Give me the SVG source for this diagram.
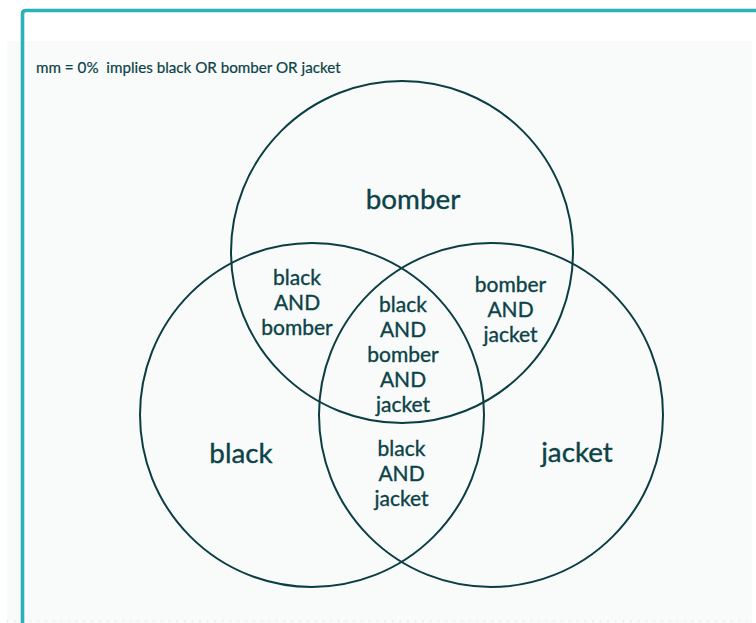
<svg xmlns="http://www.w3.org/2000/svg" width="756" height="623" viewBox="0 0 756 623">
  <style>
    .lbl { font-family: Lato, "Liberation Sans", sans-serif; fill: #0b4347; stroke: #0b4347; stroke-width: 0.35; text-anchor: middle; }
    .big { font-size: 27.8px; }
    .small { font-size: 21px; }
    .note { font-family: Lato, "Liberation Sans", sans-serif; fill: #0b4347; stroke: #0b4347; stroke-width: 0.2; font-size: 15.2px; white-space: pre; }
    .circ { fill: none; stroke: #0b3e42; stroke-width: 2; }
  </style>
  <rect x="0" y="0" width="756" height="623" fill="#ffffff"/>
  <rect x="7" y="41" width="745" height="582" fill="#f9fafa"/>
  <line x1="7" y1="621" x2="752" y2="621" stroke="#d5dada" stroke-width="1" stroke-dasharray="1 6.7"/>
  <path d="M22.5,623 L22.5,14 Q22.5,10.5 26,10.5 L756,10.5" fill="none" stroke="#2bb1b9" stroke-width="3.6"/>
  <text class="note" x="36" y="73" xml:space="preserve">mm = 0%  implies black OR bomber OR jacket</text>

  <g id="circles">
    <g id="set-bomber"><circle class="circ" cx="402" cy="252" r="171"/></g>
    <g id="set-black"><circle class="circ" cx="312" cy="415" r="172"/></g>
    <g id="set-jacket"><circle class="circ" cx="491" cy="415" r="172"/></g>
  </g>

  <g id="label-bomber"><text class="lbl big" x="413" y="209">bomber</text></g>
  <g id="label-black"><text class="lbl big" x="241" y="463">black</text></g>
  <g id="label-jacket"><text class="lbl big" x="577" y="462">jacket</text></g>

  <g id="label-black-bomber">
    <text class="lbl small" x="297" y="285">black</text>
    <text class="lbl small" x="297" y="310">AND</text>
    <text class="lbl small" x="297" y="335">bomber</text>
  </g>
  <g id="label-bomber-jacket">
    <text class="lbl small" x="510.5" y="292">bomber</text>
    <text class="lbl small" x="510.5" y="317">AND</text>
    <text class="lbl small" x="510.5" y="342">jacket</text>
  </g>
  <g id="label-all">
    <text class="lbl small" x="403" y="311.5">black</text>
    <text class="lbl small" x="403" y="336.5">AND</text>
    <text class="lbl small" x="403" y="361.5">bomber</text>
    <text class="lbl small" x="403" y="386.5">AND</text>
    <text class="lbl small" x="403" y="411.5">jacket</text>
  </g>
  <g id="label-black-jacket">
    <text class="lbl small" x="401.5" y="456">black</text>
    <text class="lbl small" x="401.5" y="481">AND</text>
    <text class="lbl small" x="401.5" y="506">jacket</text>
  </g>
</svg>
